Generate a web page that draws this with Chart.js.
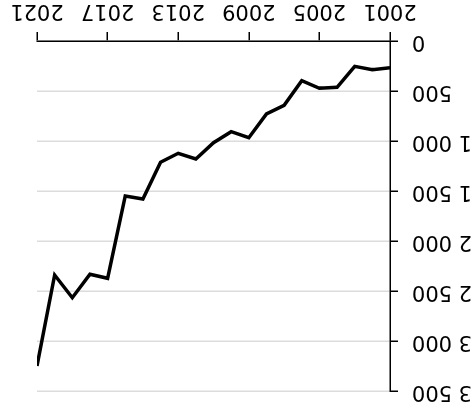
<!DOCTYPE html>
<html>
<head>
<meta charset="utf-8">
<script src="https://cdn.jsdelivr.net/npm/chart.js@4"></script>
<style>
  html, body { margin: 0; padding: 0; background: #fff; }
  #wrap { width: 472px; height: 409px; transform: rotate(180deg); }
</style>
</head>
<body>
<div id="wrap"><canvas id="chart" width="472" height="409"></canvas></div>
<script>
const years = [2001, 2002, 2003, 2004, 2005, 2006, 2007, 2008, 2009, 2010, 2011,
  2012, 2013, 2014, 2015, 2016, 2017, 2018, 2019, 2020, 2021];
const values = [267, 287, 253, 463, 473, 397, 643, 730, 967, 907, 1017,
  1180, 1123, 1213, 1580, 1550, 2373, 2333, 2567, 2340, 3250];
const yTicks = [0, 500, 1000, 1500, 2000, 2500, 3000, 3500];
const xTicks = [2001, 2005, 2009, 2013, 2017, 2021];

function spaced(v) {
  return String(v).replace(/\B(?=(\d{3})+(?!\d))/g, " ");
}

const ctx = document.getElementById("chart").getContext("2d");
new Chart(ctx, {
  type: "line",
  data: {
    datasets: [{
      data: years.map((y, i) => ({ x: y, y: values[i] })),
      borderColor: "#000",
      borderWidth: 3.5,
      borderJoinStyle: "miter",
      pointRadius: 0,
      tension: 0,
      fill: false
    }]
  },
  options: {
    responsive: false,
    animation: false,
    layout: { padding: { top: 18, right: 37, left: 0, bottom: 0 } },
    plugins: { legend: { display: false }, tooltip: { enabled: false } },
    scales: {
      x: {
        type: "linear",
        min: 2001,
        max: 2021,
        afterBuildTicks: s => { s.ticks = xTicks.map(v => ({ value: v })); },
        afterFit: s => { s.height = 41; s.paddingLeft = 0; s.paddingRight = 0; },
        grid: { drawOnChartArea: false, color: "#000", tickLength: 9, lineWidth: 1.5 },
        border: { color: "#000", width: 1.5 },
        ticks: {
          color: "#000",
          font: { family: "DejaVu Sans", size: 21 },
          padding: 9,
          maxRotation: 0,
          callback: v => String(v)
        }
      },
      y: {
        min: 0,
        max: 3500,
        afterBuildTicks: s => { s.ticks = yTicks.map(v => ({ value: v })); },
        afterFit: s => { s.width = 82; s.paddingTop = 0; s.paddingBottom = 0; },
        grid: { color: "#dcdcdc", tickColor: "#000", tickLength: 8, lineWidth: 1.5 },
        border: { color: "#000", width: 1.5 },
        ticks: {
          color: "#000",
          font: { family: "DejaVu Sans", size: 21 },
          padding: 14,
          callback: v => spaced(v)
        }
      }
    }
  }
});
</script>
</body>
</html>
